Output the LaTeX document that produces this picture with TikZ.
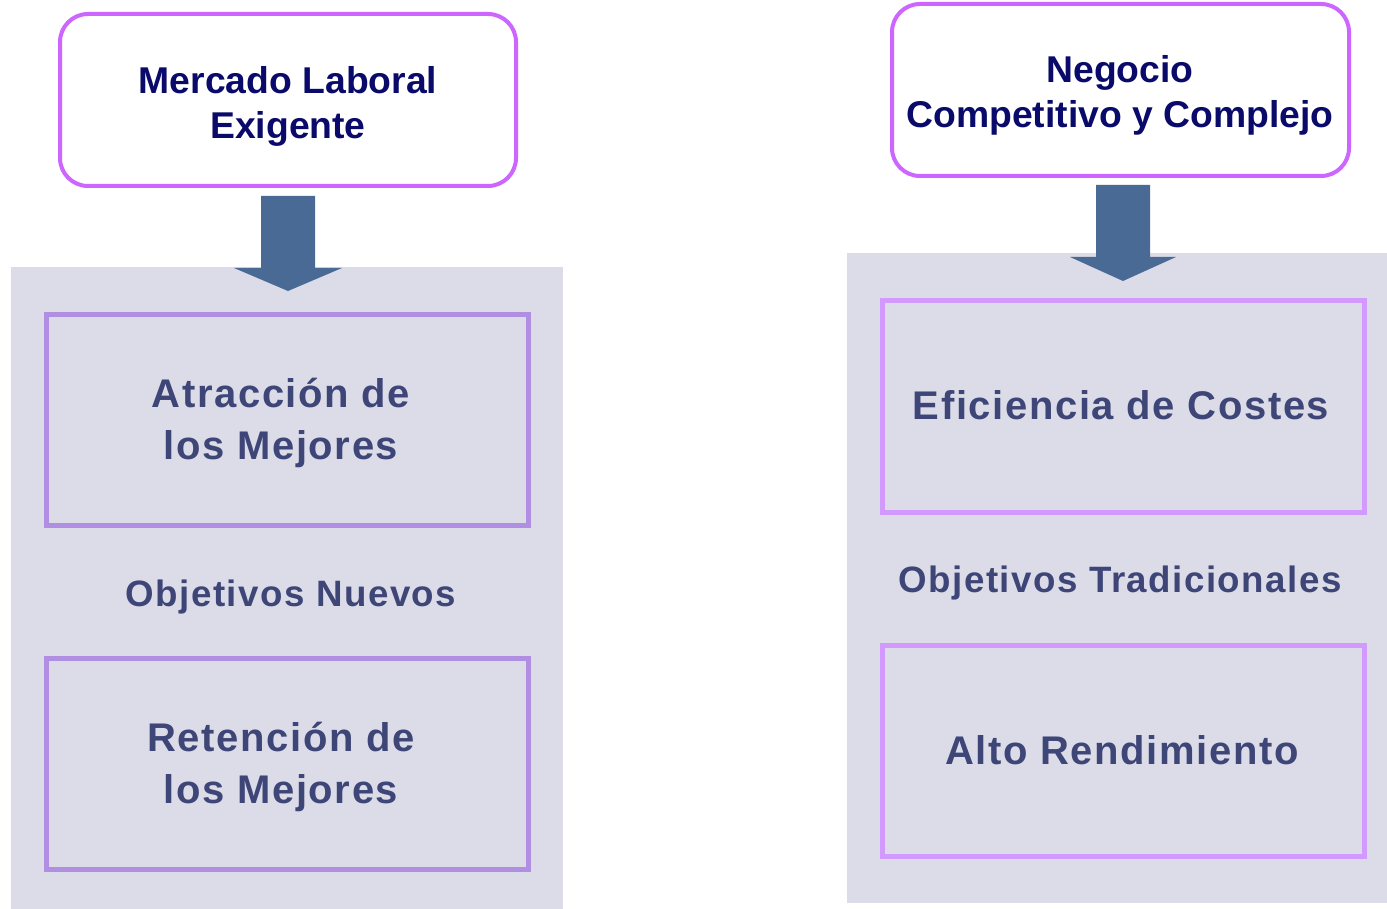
\documentclass[tikz,border=0pt]{standalone}
\usepackage{fontspec}
\setmainfont{Liberation Sans}
\begin{document}
\begin{tikzpicture}[x=1pt,y=-1pt,
  topbox/.style={draw=topviolet,line width=4pt,rounded corners=28pt,fill=white},
  panel/.style={fill=panelgray,draw=none},
  innerA/.style={draw=innerlav,line width=5pt,fill=none},
  innerB/.style={draw=innerviolet,line width=5pt,fill=none},
  toptext/.style={font=\bfseries\fontsize{37.3}{45}\selectfont,text=navy,align=center},
  boxtext/.style={font=\bfseries\addfontfeature{LetterSpace=4}\fontsize{40}{52}\selectfont,text=slate,align=center},
  midtext/.style={font=\bfseries\addfontfeature{LetterSpace=4}\fontsize{36.7}{40}\selectfont,text=slate,align=center},
  bigarrow/.style={fill=arrowblue,draw=none}
]
\definecolor{topviolet}{HTML}{CC66FF}
\definecolor{panelgray}{HTML}{DCDCE8}
\definecolor{innerlav}{HTML}{B08EE2}
\definecolor{innerviolet}{HTML}{D29AFF}
\definecolor{navy}{HTML}{0A0A6A}
\definecolor{slate}{HTML}{3E4678}
\definecolor{arrowblue}{HTML}{4A6A96}
\useasboundingbox (0,0) rectangle (1387,909);
\fill[white] (0,0) rectangle (1387,909);
% panels
\fill[panel] (11,267) rectangle (563,909);
\fill[panel] (847,253) rectangle (1387,903);
% arrows
\fill[bigarrow] (261,196) -- (315,196) -- (315,268) -- (342,268) -- (288,291) -- (234,268) -- (261,268) -- cycle;
\fill[bigarrow] (1096,185) -- (1150,185) -- (1150,257) -- (1176,257) -- (1123,281) -- (1070,257) -- (1096,257) -- cycle;
% top boxes
\draw[topbox] (60,14) rectangle (516,186);
\node[toptext] (mercado) at (288,106) {Mercado Laboral\\Exigente};
\draw[topbox] (892,4) rectangle (1349,176);
\node[toptext] (negocio) at (1120,95) {Negocio\\Competitivo y Complejo};
% inner boxes left
\draw[innerA] (46,315) rectangle (528,525);
\node[boxtext] (atraccion) at (281,423) {Atracción de\\los Mejores};
\node[midtext] (nuevos) at (291,597) {Objetivos Nuevos};
\draw[innerA] (46,658) rectangle (528,869);
\node[boxtext] (retencion) at (281,767) {Retención de\\los Mejores};
% inner boxes right
\draw[innerB] (882,301) rectangle (1364,512);
\node[boxtext] (eficiencia) at (1121,405) {Eficiencia de Costes};
\node[midtext] (tradicionales) at (1120,583) {Objetivos Tradicionales};
\draw[innerB] (882,645) rectangle (1364,856);
\node[boxtext] (alto) at (1122,750) {Alto Rendimiento};
\end{tikzpicture}
\end{document}
